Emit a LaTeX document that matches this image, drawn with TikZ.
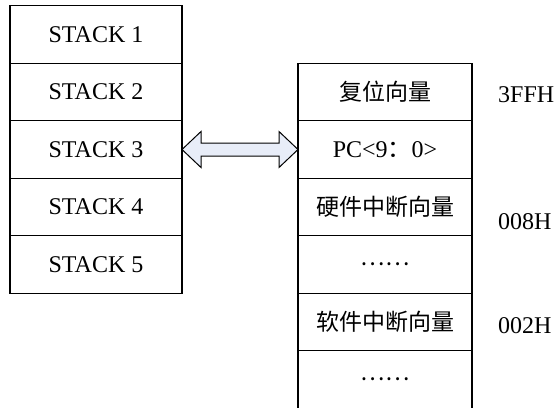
\documentclass[tikz,border=0pt]{standalone}
\usepackage{fontspec}
\setmainfont{Liberation Serif}
\newfontfamily\cjk{Noto Sans CJK SC}
\usetikzlibrary{calc,positioning}
\definecolor{ArrowFill}{HTML}{E8EDF8}
\begin{document}
\begin{tikzpicture}[x=1pt,y=-1pt,font=\fontsize{24pt}{26pt}\selectfont,
        cell/.style={rectangle,draw=black,line width=1.2pt,minimum height=57.5pt,inner sep=0pt,outer sep=0pt},
        lcell/.style={cell,minimum width=172pt},
        rcell/.style={cell,minimum width=174pt},
        cn/.style={font=\fontsize{23pt}{25pt}\selectfont\cjk},
        addr/.style={anchor=west,inner sep=0pt},
        blk/.style={draw=black,line width=1pt,fill=ArrowFill,line join=miter}]
        \useasboundingbox (0,0) rectangle (556,407);
        % stack on the left
        \node[lcell] (s1) at (96,34.5) {STACK 1};
        \node[lcell,below=0pt of s1] (s2) {STACK 2}; \node[lcell,below=0pt of s2] (s3) {STACK 3};
        \node[lcell,below=0pt of s3] (s4) {STACK 4}; \node[lcell,below=0pt of s4] (s5) {STACK 5};
        % program memory on the right
        \node[rcell,cn] (r1) at (385,92) {复位向量};
        \node[rcell,below=0pt of r1] (r2) {PC<9{\cjk ：}0>};
        \node[rcell,cn,below=0pt of r2] (r3) {硬件中断向量};
        \node[rcell,cn,below=0pt of r3] (r4) {……};
        \node[rcell,cn,below=0pt of r4] (r5) {软件中断向量};
        \node[rcell,cn,below=0pt of r5,draw=none] (r6) {……};
        \draw[line width=1.2pt] (r6.north west) -- ([yshift=-2pt]r6.south west);
        \draw[line width=1.2pt] (r6.north east) -- ([yshift=-2pt]r6.south east);
        % addresses
        \node[addr] (a1) at ($(r1.east)+(26,3)$) {3FFH};
        \node[addr] (a3) at ($(r3.east)+(26,14.5)$) {008H};
        \node[addr] (a5) at ($(r5.east)+(26,3.5)$) {002H};
        % block arrow between the two
        \draw[blk] (s3.east) -- ++(19,-18) -- ++(0,11.5) -- ($(r2.west)+(-19,-6.5)$) -- ++(0,-11.5) -- (r2.west)
          -- ++(-19,18) -- ++(0,-11.5) -- ($(s3.east)+(19,6.5)$) -- ++(0,11.5) -- cycle;
      \end{tikzpicture}
\end{document}
